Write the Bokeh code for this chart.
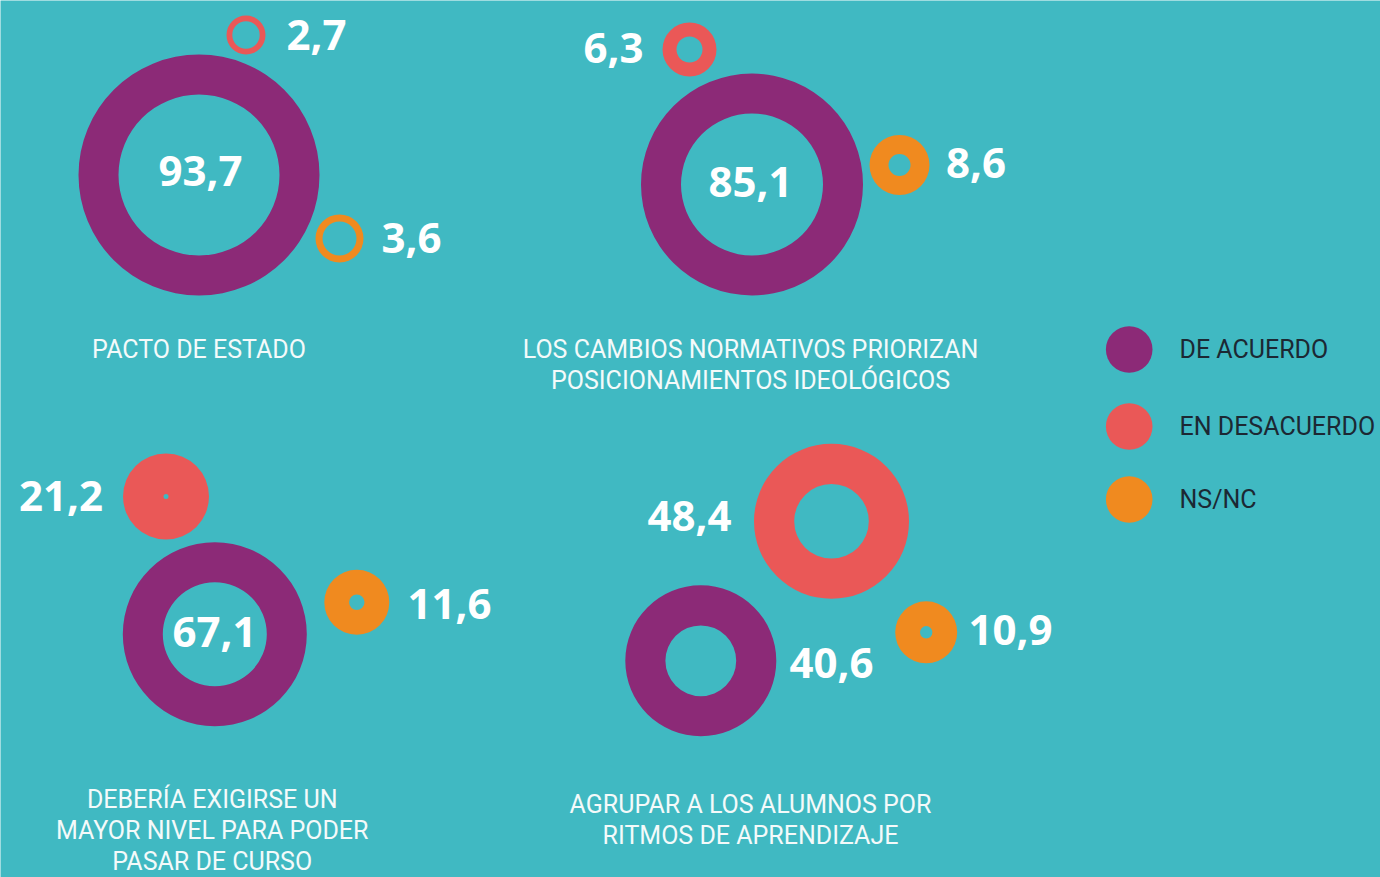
from bokeh.plotting import figure
from bokeh.models import Range1d, ColumnDataSource
from bokeh.core.properties import value
from bokeh.embed import file_html
from bokeh.resources import INLINE

# ---------------- data ----------------
questions = [
    "PACTO DE ESTADO",
    "LOS CAMBIOS NORMATIVOS PRIORIZAN\nPOSICIONAMIENTOS IDEOLÓGICOS",
    "DEBERÍA EXIGIRSE UN\nMAYOR NIVEL PARA PODER\nPASAR DE CURSO",
    "AGRUPAR A LOS ALUMNOS POR\nRITMOS DE APRENDIZAJE",
]
de_acuerdo = [93.7, 85.1, 67.1, 40.6]
en_desacuerdo = [2.7, 6.3, 21.2, 48.4]
ns_nc = [3.6, 8.6, 11.6, 10.9]
series_names = ["DE ACUERDO", "EN DESACUERDO", "NS/NC"]

# ---------------- layout (pixel coordinates of the infographic) ----------------
colors = ["#8c2a77", "#ea5857", "#f08a1f"]
BG = "#40b9c2"

# ring centers / radii per question, per series
ring_cx = [[198.5, 245.5, 339.0], [751.5, 689.0, 899.0], [214.3, 165.5, 356.3], [700.3, 831.0, 925.7]]
ring_cy = [[174.5, 34.5, 238.0], [184.0, 49.0, 164.5], [633.7, 496.0, 601.7], [660.3, 520.8, 631.8]]
ring_ro = [[120.5, 19.5, 24.0], [111.0, 27.0, 30.0], [92.0, 43.0, 32.5], [75.5, 77.5, 31.0]]
ring_ri = [[80.5, 13.7, 17.0], [71.0, 13.0, 11.0], [52.0, 2.5, 7.7], [35.4, 37.3, 6.2]]
lab_x = [[200.0, 316.0, 411.0], [750.0, 613.0, 975.5], [214.0, 60.5, 449.0], [831.0, 689.0, 1010.0]]
lab_y = [[170.0, 34.0, 237.0], [181.0, 47.0, 162.0], [631.0, 495.0, 603.0], [662.0, 515.0, 629.0]]
title_x = [198.5, 750.0, 211.7, 750.0]
title_y0 = [349.0, 349.0, 799.0, 804.0]
title_dy = 31.0
legend_x = 1128.7
legend_y = [349.0, 426.0, 499.0]
legend_r = 23.3
legend_tx = 1179.0

W, H = 1380, 877
p = figure(width=W, height=H, output_backend="svg", toolbar_location=None,
           x_range=Range1d(0, W), y_range=Range1d(H, 0),
           min_border=0, outline_line_color=None)
p.axis.visible = False
p.grid.visible = False
p.background_fill_color = BG
p.border_fill_color = BG

vals = [de_acuerdo, en_desacuerdo, ns_nc]

xs, ys, ro, ri, cols, lx, ly, lt = [], [], [], [], [], [], [], []
for q in range(len(questions)):
    for s in range(3):
        xs.append(ring_cx[q][s]); ys.append(ring_cy[q][s])
        ro.append(ring_ro[q][s]); ri.append(ring_ri[q][s])
        cols.append(colors[s])
        lx.append(lab_x[q][s]); ly.append(lab_y[q][s])
        lt.append(f"{vals[s][q]:.1f}".replace(".", ","))

rings = ColumnDataSource(dict(x=xs, y=ys, ro=ro, ri=ri, c=cols))
p.annulus(x="x", y="y", inner_radius="ri", outer_radius="ro", fill_color="c",
          line_color=None, source=rings)

labels = ColumnDataSource(dict(x=lx, y=ly, t=lt))
p.text(x="x", y="y", text="t", source=labels, text_align="center", text_baseline="middle",
       text_color="white", text_font=value("Open Sans"), text_font_style="bold",
       text_font_size="42px")

# question titles
tx, ty, tt = [], [], []
for q, title in enumerate(questions):
    for i, line in enumerate(title.split("\n")):
        tx.append(title_x[q]); ty.append(title_y0[q] + i * title_dy); tt.append(line)
p.text(x=tx, y=ty, text=tt, text_align="center", text_baseline="middle",
       text_color="#f4fafa", text_font=value("Roboto"), text_font_size="25px")

# legend
p.scatter(x=[legend_x] * 3, y=legend_y, radius=legend_r, fill_color=colors, line_color=None)
p.text(x=[legend_tx] * 3, y=legend_y, text=series_names, text_align="left",
       text_baseline="middle", text_color="#1c2833", text_font=value("Roboto"),
       text_font_size="25px")

open("out.html", "w").write(file_html(p, INLINE))
